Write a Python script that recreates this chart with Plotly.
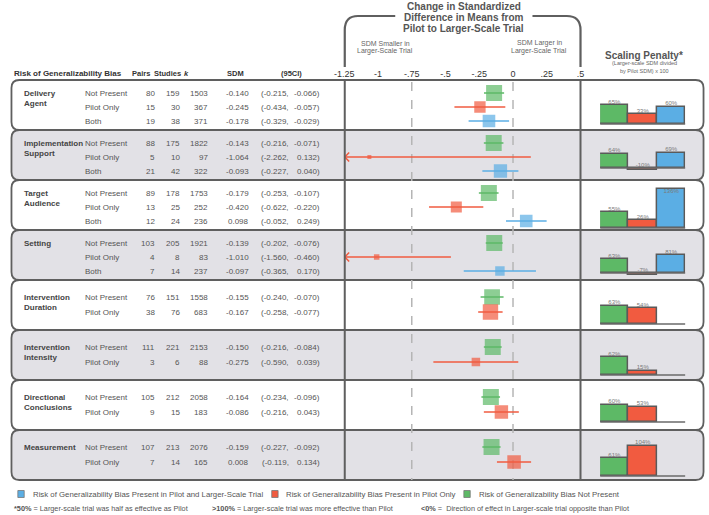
import numpy as np
import plotly.graph_objects as go

W, H = 709, 515

# ---------------- data ----------------
group_names = ["Delivery<br>Agent", "Implementation<br>Support", "Target<br>Audience", "Setting",
               "Intervention<br>Duration", "Intervention<br>Intensity", "Directional<br>Conclusions",
               "Measurement"]
group_sizes = [3, 3, 3, 3, 2, 2, 2, 2]
bias_status = ["Not Present", "Pilot Only", "Both",
               "Not Present", "Pilot Only", "Both",
               "Not Present", "Pilot Only", "Both",
               "Not Present", "Pilot Only", "Both",
               "Not Present", "Pilot Only",
               "Not Present", "Pilot Only",
               "Not Present", "Pilot Only",
               "Not Present", "Pilot Only"]
pairs = [80, 15, 19, 88, 5, 21, 89, 13, 12, 103, 4, 7, 76, 38, 111, 3, 105, 9, 107, 7]
studies = [159, 30, 38, 175, 10, 42, 178, 25, 24, 205, 8, 14, 151, 76, 221, 6, 212, 15, 213, 14]
k_vals = [1503, 367, 371, 1822, 97, 322, 1753, 252, 236, 1921, 83, 237, 1558, 683, 2153, 88,
          2058, 183, 2076, 165]
sdm = [-0.140, -0.245, -0.178, -0.143, -1.064, -0.093, -0.179, -0.420, 0.098, -0.139, -1.010,
       -0.097, -0.155, -0.167, -0.150, -0.275, -0.164, -0.086, -0.159, 0.008]
ci_lo = [-0.215, -0.434, -0.329, -0.216, -2.262, -0.227, -0.253, -0.622, -0.052, -0.202, -1.560,
         -0.365, -0.240, -0.258, -0.216, -0.590, -0.234, -0.216, -0.227, -0.119]
ci_hi = [-0.066, -0.057, -0.029, -0.071, 0.132, 0.040, -0.107, -0.220, 0.249, -0.076, -0.460,
         0.170, -0.070, -0.077, -0.084, 0.039, -0.096, 0.043, -0.092, 0.134]

penalty_not_present = [65, 64, 55, 63, 63, 62, 60, 61]
penalty_pilot_only = [33, -10, 26, -7, 54, 15, 53, 104]
penalty_both = [60, 69, 136, 81, None, None, None, None]

tick_vals = [-1.25, -1, -0.75, -0.5, -0.25, 0, 0.25, 0.5]
tick_text = ["-1.25", "-1", "-.75", "-.5", "-.25", "0", ".25", ".5"]
ref_lines = [-0.75, 0]

# ---------------- styling / layout ----------------
FONT = "Liberation Sans, Arial, Helvetica, sans-serif"
COLORS = {"Not Present": "#5DB966", "Pilot Only": "#F15B40", "Both": "#5BAEE4"}
PANEL_FILL = ["#FFFFFF", "#E2E1E6"]
EDGE = "#5F5F5F"
TXT = "#555555"
XMIN, XMAX = -1.25, 0.5
FX0, FX1 = 341, 582           # forest area in px
PANEL_TOP0, PANEL_H = 80, 50
ROW_OFFS = {3: [13, 27, 41], 2: [17, 32]}
bar_base_offset = [6, 12, 2, 7, 6, 5, 8, 4]   # px above panel bottom
BX0, BX1 = 602, 689

def X(px):
    return px / W

# row y positions (px from top, yaxis is in pixel units)
row_y, row_group = [], []
for g, n in enumerate(group_sizes):
    top = PANEL_TOP0 + PANEL_H * g
    for off in ROW_OFFS[n]:
        row_y.append(top + off)
        row_group.append(g)

fig = go.Figure()
shapes, annos = [], []

# ---- panels ----
def rrect(x0, y0, x1, y1, r):
    return (f"M {X(x0 + r)},{y0} L {X(x1 - r)},{y0} Q {X(x1)},{y0} {X(x1)},{y0 + r} "
            f"L {X(x1)},{y1 - r} Q {X(x1)},{y1} {X(x1 - r)},{y1} L {X(x0 + r)},{y1} "
            f"Q {X(x0)},{y1} {X(x0)},{y1 - r} L {X(x0)},{y0 + r} Q {X(x0)},{y0} {X(x0 + r)},{y0} Z")

for g in range(len(group_sizes)):
    top = PANEL_TOP0 + PANEL_H * g
    shapes.append(dict(type="path", xref="paper", yref="y", layer="below",
                       path=rrect(1.5, top, 707.5, top + PANEL_H, 8),
                       fillcolor=PANEL_FILL[g % 2], line=dict(color=EDGE, width=1.8)))

# dashed reference lines
bottom = PANEL_TOP0 + PANEL_H * len(group_sizes)
for v in ref_lines:
    shapes.append(dict(type="line", xref="x", yref="y", layer="below", x0=v, x1=v,
                       y0=82, y1=bottom,
                       line=dict(color="#B5B5B5", width=1.5, dash="dash")))

# vertical axis lines
for xp in (FX0 + 0.5, FX1):
    shapes.append(dict(type="line", xref="paper", yref="y", x0=X(xp), x1=X(xp),
                       y0=PANEL_TOP0, y1=bottom, line=dict(color=EDGE, width=2)))

# bracket above forest
shapes.append(dict(type="path", xref="paper", yref="y",
                   path=f"M {X(FX0+0.5)},67 L {X(FX0+0.5)},30 Q {X(FX0+0.5)},16 {X(FX0+14)},16 L {X(393)},16",
                   line=dict(color=EDGE, width=2.2)))
shapes.append(dict(type="path", xref="paper", yref="y",
                   path=f"M {X(533)},16 L {X(FX1-14)},16 Q {X(FX1)},16 {X(FX1)},30 L {X(FX1)},67",
                   line=dict(color=EDGE, width=2.2)))

# ---- forest traces ----
def marker_size(lo, hi):
    return float(np.clip(6 - 5.5 * np.log(hi - lo), 4, 16))

for status in ["Not Present", "Pilot Only", "Both"]:
    idx = [i for i, s in enumerate(bias_status) if s == status]
    lx, ly = [], []
    ax, ay = [], []
    for i in idx:
        lx += [max(ci_lo[i], XMIN), ci_hi[i], None]
        ly += [row_y[i], row_y[i], None]
        if ci_lo[i] < XMIN:
            dx = 5 / ((FX1 - FX0) / (XMAX - XMIN))
            ax += [XMIN + dx, XMIN + 0.004, XMIN + dx, None]
            ay += [row_y[i] - 4.5, row_y[i], row_y[i] + 4.5, None]
    fig.add_trace(go.Scatter(x=lx, y=ly, mode="lines", xaxis="x", yaxis="y",
                             line=dict(color=COLORS[status], width=1.5), hoverinfo="skip",
                             showlegend=False))
    if ax:
        fig.add_trace(go.Scatter(x=ax, y=ay, mode="lines", xaxis="x", yaxis="y",
                                 line=dict(color=COLORS[status], width=1.5), hoverinfo="skip",
                                 showlegend=False))
    fig.add_trace(go.Scatter(x=[sdm[i] for i in idx], y=[row_y[i] for i in idx], mode="markers",
                             xaxis="x", yaxis="y", showlegend=False,
                             marker=dict(symbol="square", color=COLORS[status],
                                         size=[marker_size(ci_lo[i], ci_hi[i]) for i in idx],
                                         line=dict(width=0))))

# ---- table text ----
def txt(x, y, s, anchor="left", size=8, color=TXT, valign="middle"):
    annos.append(dict(x=X(x), y=y, xref="paper", yref="y", text=s, showarrow=False,
                      xanchor=anchor, yanchor=valign, borderpad=0, align="left",
                      font=dict(family=FONT, size=size, color=color)))

HY = 73
txt(3, HY, "<b>Risk of Generalizability Bias</b>", color="#333")
txt(144, HY, "<b>Pairs</b>", "right", size=7.5, color="#333")
txt(146, HY, "<b>Studies</b>", "left", size=7.5, color="#333")
txt(180, HY, "<b><i>k</i></b>", "center", size=7.5, color="#333")
txt(230, HY, "<b>SDM</b>", "center", size=7.5, color="#333")
txt(287, HY, "<b>(95CI)</b>", "center", size=7.5, color="#333")

for g, name in enumerate(group_names):
    first = row_group.index(g)
    txt(13, row_y[first] - 5.5, f"<b>{name}</b>", size=8, color="#444", valign="top")

for i in range(len(bias_status)):
    y = row_y[i]
    txt(76, y, bias_status[i])
    txt(149, y, str(pairs[i]), "right")
    txt(174, y, str(studies[i]), "right")
    txt(203, y, str(k_vals[i]), "right")
    txt(245, y, f"{sdm[i]:.3f}", "right")
    txt(286, y, f"({ci_lo[i]:.3f},", "right")
    txt(317, y, f"{ci_hi[i]:.3f})", "right")

# forest header texts
for yy, line in zip([6, 17, 28], ["Change in Standardized", "Difference in Means from",
                                   "Pilot to Larger-Scale Trial"]):
    txt(463, yy, f"<b>{line}</b>", "center", size=10, color="#555")
txt(383, 43, "SDM Smaller in", "center", size=7, color="#666")
txt(383, 51, "Larger-Scale Trial", "center", size=7, color="#666")
txt(540, 43, "SDM Larger in", "center", size=7, color="#666")
txt(540, 51, "Larger-Scale Trial", "center", size=7, color="#666")

# scaling penalty header
txt(647, 55, "<b>Scaling Penalty*</b>", "center", size=10, color="#555")
txt(647, 63, "(Larger-scale SDM divided", "center", size=5.5, color="#666")
txt(647, 70.5, "by Pilot SDM) x 100", "center", size=5.5, color="#666")

# ---- scaling penalty mini bar charts ----
layout_axes = {}
slot_status = ["Not Present", "Pilot Only", "Both"]
for g in range(len(group_sizes)):
    vals = [penalty_not_present[g], penalty_pilot_only[g], penalty_both[g]]
    has_neg = any(v is not None and v < 0 for v in vals)
    s = 0.22 if has_neg else 0.29          # px per percent
    top = PANEL_TOP0 + PANEL_H * g
    pb, pt = top + PANEL_H - 1, top + 1
    base = top + PANEL_H - bar_base_offset[g]
    lo = -(pb - base) / s
    hi = lo + (pb - pt) / s
    yname = f"yaxis{3 + g}"
    yid = f"y{3 + g}"
    layout_axes[yname] = dict(domain=[1 - pb / H, 1 - pt / H], range=[lo, hi], visible=False,
                              anchor="x2", fixedrange=True)
    fig.add_trace(go.Scatter(x=[0, 3], y=[0, 0], mode="lines", xaxis="x2", yaxis=yid,
                             line=dict(color="#6A6A6A", width=1.5), showlegend=False,
                             hoverinfo="skip", cliponaxis=False))
    xs = [j + 0.5 for j, v in enumerate(vals) if v is not None]
    vs = [v for v in vals if v is not None]
    cs = [COLORS[slot_status[j]] for j, v in enumerate(vals) if v is not None]
    fig.add_trace(go.Bar(x=xs, y=vs, width=1, xaxis="x2", yaxis=yid, showlegend=False,
                         marker=dict(color=cs, line=dict(color="#5A5A5A", width=1.5)),
                         cliponaxis=False))
    pos = []
    for v in vs:
        if (base - v * s - 12) < top:
            pos.append("bottom center")
        else:
            pos.append("top center")
    fig.add_trace(go.Scatter(x=xs, y=[max(v, 0) for v in vs], mode="text",
                             text=[f"{v}%" for v in vs], textposition=pos,
                             xaxis="x2", yaxis=yid, showlegend=False, cliponaxis=False,
                             textfont=dict(family=FONT, size=6, color="#7A7A7A")))

# ---- legend ----
LY = 494
legend_items = [(8, "Both", "Risk of Generalizability Bias Present in Pilot and Larger-Scale Trial"),
                (267, "Pilot Only", "Risk of Generalizability Bias Present in Pilot Only"),
                (463, "Not Present", "Risk of Generalizability Bias Not Present")]
for x0, st, label in legend_items:
    shapes.append(dict(type="rect", xref="paper", yref="y", x0=X(x0), x1=X(x0 + 6.5),
                       y0=LY - 3.5, y1=LY + 3.5, fillcolor=COLORS[st],
                       line=dict(color="#777", width=0.8)))
    txt(x0 + 14, LY, label, size=7.8, color="#555")

FY = 508
txt(3, FY, "<b>*50%</b> = Larger-scale trial was half as effective as Pilot", size=7.3, color="#555")
txt(205, FY, "<b>&gt;100%</b> = Larger-scale trial was more effective than Pilot", size=7.3,
    color="#555")
txt(418, FY, "<b>&lt;0%</b> =  Direction of effect in Larger-scale trial opposite than Pilot",
    size=7.3, color="#555")

fig.update_layout(
    width=W, height=H, margin=dict(l=0, r=0, t=0, b=0, pad=0),
    paper_bgcolor="white", plot_bgcolor="rgba(0,0,0,0)",
    font=dict(family=FONT, color=TXT),
    showlegend=False, bargap=0,
    xaxis=dict(domain=[FX0 / W, FX1 / W], range=[XMIN, XMAX], anchor="free",
               position=1 - 79 / H, side="top", tickvals=tick_vals, ticktext=tick_text,
               showgrid=False, zeroline=False, showline=False, ticks="",
               tickfont=dict(family=FONT, size=9, color="#333"), fixedrange=True),
    yaxis=dict(domain=[0, 1], range=[H, 0], visible=False, fixedrange=True),
    xaxis2=dict(domain=[BX0 / W, BX1 / W], range=[0, 3], visible=False, anchor="y3",
                fixedrange=True),
    shapes=shapes, annotations=annos,
    **layout_axes,
)

fig.write_html("out.html", config={"displayModeBar": False},
               post_script="document.body.style.margin='0';document.body.style.overflow='hidden';")
